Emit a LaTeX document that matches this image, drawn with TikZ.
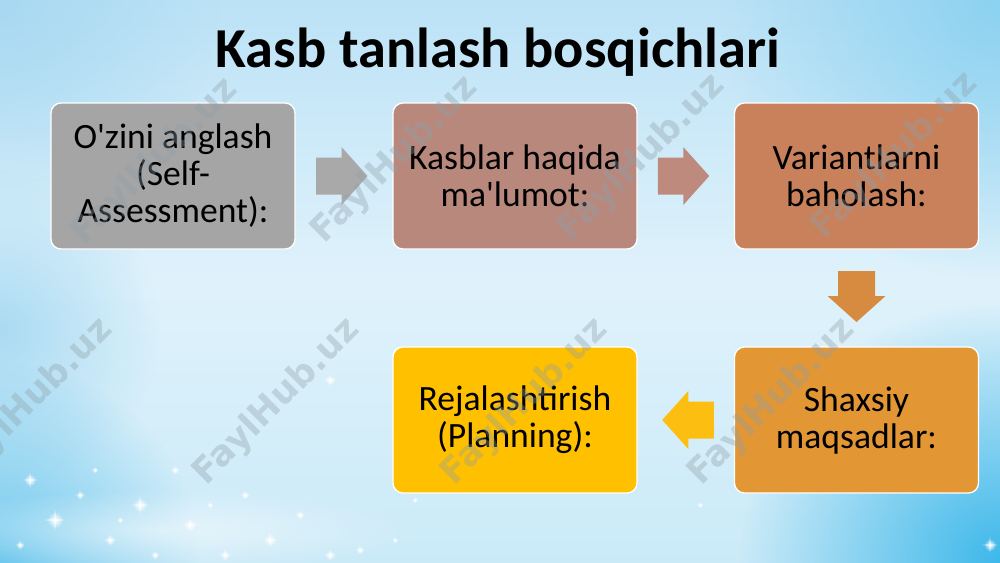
\documentclass[tikz,border=0pt]{standalone}
\usepackage{fontspec}
\setmainfont{Carlito}
\newfontfamily\wmfont{DejaVu Sans}
\usetikzlibrary{calc,fadings}
\tikzfading[name=radfade, inner color=transparent!0, outer color=transparent!100]
\definecolor{boxA}{HTML}{A5A5A5}
\definecolor{boxB}{HTML}{B8887D}
\definecolor{boxC}{HTML}{C8815B}
\definecolor{boxD}{HTML}{E29634}
\definecolor{boxE}{HTML}{FFC000}
\definecolor{arrA}{HTML}{A9A9A9}
\definecolor{arrB}{HTML}{BE8A7D}
\definecolor{arrC}{HTML}{D68B40}
\definecolor{arrD}{HTML}{FDBE12}
\definecolor{bgtop}{HTML}{BCE2F6}
\definecolor{bgmid}{HTML}{DFF2FB}
\definecolor{bgbot}{HTML}{CBEAF8}
\definecolor{wmgray}{HTML}{8E9FA8}
\tikzset{
  stepbox/.style={rectangle, rounded corners=7.5pt, draw=white, line width=1pt,
    minimum width=183pt, minimum height=109.5pt, inner sep=2pt, align=center,
    text=black, font=\fontsize{26.7}{27.75}\selectfont},
  wmark/.style={rotate=45, text=wmgray, opacity=0.36, font=\wmfont\bfseries\fontsize{26.5}{30}\selectfont},
  sparkle/.style={white, path fading=radfade}
}
\begin{document}
\begin{tikzpicture}[x=0.75pt, y=-0.75pt]
\useasboundingbox (0,0) rectangle (1000,562);
\clip (0,0) rectangle (1000,562);
% background
\shade[top color=bgtop, bottom color=bgbot, middle color=bgmid] (0,0) rectangle (1000,562);
\fill[color={rgb,255:red,140;green,210;blue,241}, path fading=radfade] (1000,0) circle (280);
\fill[color={rgb,255:red,168;green,217;blue,242}, path fading=radfade] (0,0) circle (220);
\fill[color={rgb,255:red,170;green,219;blue,243}, path fading=radfade] (0,330) circle (160);
\fill[color={rgb,255:red,61;green,184;blue,234}, path fading=radfade] (1000,562) circle (260);
\fill[color={rgb,255:red,110;green,200;blue,238}, path fading=radfade] (0,562) circle (200);
\fill[white, opacity=0.5, path fading=radfade] (160,530) ellipse (260 and 40);
% sparkles
\foreach \sx/\sy/\sr in {30/480/6, 55/520/8, 80/495/4, 110/540/5, 140/505/7, 175/470/4, 190/525/6,
  225/555/5, 245/495/4, 270/540/6, 300/515/4, 330/555/5, 20/545/4, 95/470/3, 155/555/4,
  360/550/4, 120/520/3, 210/505/3, 395/540/3, 330/380/5, 790/480/4, 990/545/6, 700/505/3, 415/500/3} {
  \fill[sparkle] (\sx,\sy) circle (\sr);
  \fill[white, opacity=0.5] (\sx-\sr*1.4,\sy) -- (\sx,\sy-0.2*\sr) -- (\sx+\sr*1.4,\sy) -- (\sx,\sy+0.2*\sr) -- cycle;
  \fill[white, opacity=0.5] (\sx,\sy-\sr*1.4) -- (\sx+0.2*\sr,\sy) -- (\sx,\sy+\sr*1.4) -- (\sx-0.2*\sr,\sy) -- cycle;
}
% title
\node[anchor=base, font=\bfseries\fontsize{42.3}{50}\selectfont] (title) at (498,67) {Kasb tanlash bosqichlari};
% boxes
\node[stepbox, fill=boxA] (b1) at (173,176) {O\textquotesingle zini anglash\\(Self-\\Assessment):};
\node[stepbox, fill=boxB] (b2) at (515,176) {Kasblar haqida\\ma\textquotesingle lumot:};
\node[stepbox, fill=boxC] (b3) at (856.5,176) {Variantlarni\\baholash:};
\node[stepbox, fill=boxD] (b4) at (856.5,420) {Shaxsiy\\maqsadlar:};
\node[stepbox, fill=boxE] (b5) at (515,420) {Rejalashtirish\\(Planning):};
% connector arrows
\coordinate (m12) at ($(b1.east)!0.5!(b2.west)$);
\coordinate (m23) at ($(b2.east)!0.5!(b3.west)$);
\coordinate (m34) at ($(b3.south)!0.5!(b4.north)$);
\coordinate (m45) at ($(b4.west)!0.5!(b5.east)$);
\fill[arrA] ($(m12)+(-28,-18.5)$) -- ($(m12)+(-2.5,-18.5)$) -- ($(m12)+(-2.5,-29)$) -- ($(m12)+(23.5,0)$)
  -- ($(m12)+(-2.5,29)$) -- ($(m12)+(-2.5,18.5)$) -- ($(m12)+(-28,18.5)$) -- cycle;
\fill[arrB] ($(m23)+(-28,-18.5)$) -- ($(m23)+(-2.5,-18.5)$) -- ($(m23)+(-2.5,-29)$) -- ($(m23)+(23.5,0)$)
  -- ($(m23)+(-2.5,29)$) -- ($(m23)+(-2.5,18.5)$) -- ($(m23)+(-28,18.5)$) -- cycle;
\fill[arrC] ($(m34)+(-18.5,-27)$) -- ($(m34)+(-18.5,-2)$) -- ($(m34)+(-29,-2)$) -- ($(m34)+(0,24)$)
  -- ($(m34)+(29,-2)$) -- ($(m34)+(18.5,-2)$) -- ($(m34)+(18.5,-27)$) -- cycle;
\fill[arrD] ($(m45)+(28,-18.5)$) -- ($(m45)+(2.5,-18.5)$) -- ($(m45)+(2.5,-29)$) -- ($(m45)+(-23.5,0)$)
  -- ($(m45)+(2.5,29)$) -- ($(m45)+(2.5,18.5)$) -- ($(m45)+(28,18.5)$) -- cycle;
% watermarks
\foreach \wx/\wy [count=\i] in {155/162, 395/160, 642/158, 895/156, 30/402, 277/402, 525/402, 772/402} {
  \node[wmark] (wm\i) at (\wx,\wy) {FaylHub.uz};
}
\end{tikzpicture}
\end{document}
